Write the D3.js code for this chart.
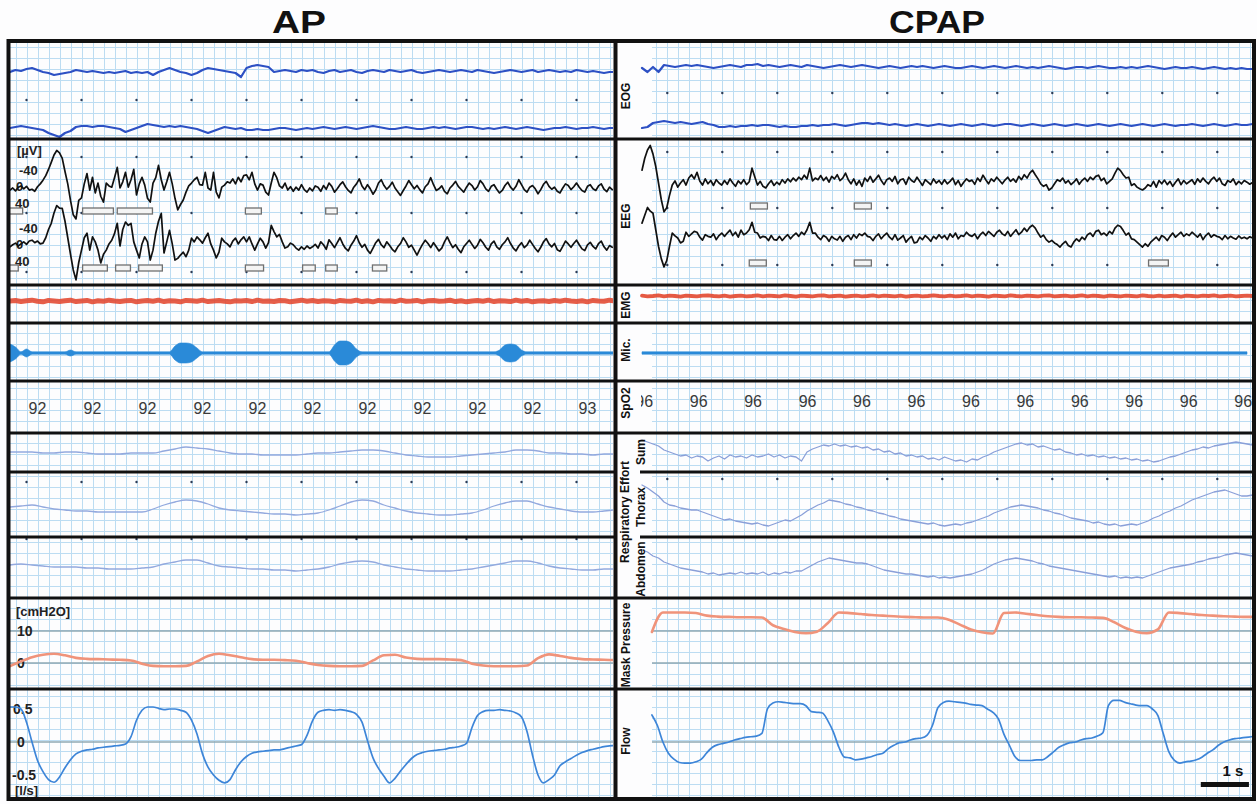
<!DOCTYPE html>
<html><head><meta charset="utf-8">
<script src="https://cdn.jsdelivr.net/npm/d3@7"></script>
<style>body{margin:0;background:#fff;}svg{display:block;font-family:"Liberation Sans",Arial,sans-serif;}</style>
</head><body><svg id="c" width="1257" height="804"></svg>
<script>
// ---------------- DATA ----------------
const panelTitles = ["AP", "CPAP"];
const channelLabels = ["EOG","EEG","EMG","Mic.","SpO2","Mask Pressure","Flow"];
const effortGroup = "Respiratory Effort";
const effortLabels = ["Sum","Thorax","Abdomen"];
const eegTicks = [-40, 0, 40];
const pressureTicks = [10, 0];
const flowTicks = [0.5, 0, -0.5];

// EOG (µV, 0.1 s samples)
const eogAP1 = [-2,2,0,4,6,2,-2,-4,-8,-6, -4,-2,2,0,-2,0,-2,-4,-2,-4, -2,0,-4,-2,-4,-2,-8,-2,2,6, 2,-2,-4,-8,-4,2,6,4,2,0, -2,-4,-12,6,10,12,10,8,-2,0, 2,0,-2,2,0,2,-2,-4,0,2, -2,0,2,-2,-4,0,2,0,-2,2, 0,-2,0,2,-2,-4,-2,0,2,0, -2,0,2,0,-2,2,0,-2,-4,-2, 0,2,0,-2,0,2,-2,0,2,0, -2,0,-2,2,0,-2,0,-2,-4,-2, -2];
const eogAP2 = [0,2,4,2,0,-2,-4,-10,-14,-18, -10,-6,2,4,4,2,4,4,2,0, -2,-8,-4,0,4,8,6,4,2,4, 2,4,2,0,-2,-6,-10,-6,-2,2, 0,-2,0,-4,-4,-2,-4,-4,-2,0, 0,-2,-4,-2,0,-2,0,2,0,-2, 0,2,0,-2,0,2,4,2,0,-2, -2,0,2,0,-2,-2,0,2,0,2, 0,-2,0,2,2,0,-2,0,-2,0, 2,0,-2,0,2,0,-2,-4,-2,0, 0,2,0,-2,0,0,2,0,-2,0, 0];
const eogCP1 = [-2,-10,0,-10,4,2,0,2,4,2, 4,2,0,-2,0,2,4,2,0,4, 4,6,2,4,2,0,2,4,2,0, 4,2,0,-2,0,2,4,2,0,2, 4,2,0,-2,0,2,0,-2,0,2, 0,2,0,-2,0,2,0,-2,-2,0, 2,0,-2,0,2,0,-2,0,2,0, -2,0,-2,0,2,0,-2,-4,-2,0, 0,-2,0,2,0,-2,-2,0,-2,0, -2,0,2,0,-2,-4,-2,0,-2,-2, 0,-2,-4,-2,0,-2,-4,-2,-4,-2, -4,-4];
const eogCP2 = [-6,-4,4,6,8,6,4,6,4,2, 4,6,2,0,-4,-4,-2,-4,-2,-2, 0,-2,0,0,-2,-4,-2,-4,-4,-2, -2,0,-2,0,0,2,0,-2,0,2, 4,4,2,4,2,0,2,0,-2,0, 2,0,-2,0,2,0,-2,0,2,0, -2,0,2,0,-2,0,2,2,0,-2, 0,2,0,-2,0,2,0,-2,0,2, 0,-2,0,2,0,-2,0,2,0,-2, 0,2,0,-2,0,2,0,-2,0,0, 2,0,-2,0,2,0,-2,0,2,0, 0,2];

// EEG (µV, 0.05 s samples; negative up)
const eegAP1 = [5,0,7,-2,-5,2,-4,5,3,8, -3,-10,-19,-30,-45,-62,-80,-91,-85,-72, -40,-10,30,65,75,30,24,-10,-35,5, -26,12,-12,20,34,-12,-5,-2,-25,-50, 0,-15,-38,-2,-20,-45,17,-10,-26,-7, 25,34,-12,-25,-55,-20,5,-15,-38,-10, 25,53,40,29,10,-5,-12,-20,-26,-8, -7,-38,0,5,-38,10,24,-2,-7,-15, -12,-22,-10,-26,-15,-30,-32,-20,-38,-10, 5,-10,-7,10,17,-12,-38,-25,-5,0, -12,5,-3,8,-2,5,-8,4,10,0, 7,-5,-2,8,-6,3,-12,-4,10,2, -8,-15,-3,6,12,-2,-10,-22,-5,4, -8,2,15,5,-12,-20,-6,3,-4,-14, 0,9,18,6,-5,-18,-8,2,-6,4, 12,-3,-10,-25,-8,6,2,-5,8,14, 0,-7,-16,-4,3,10,-2,-12,-6,5, -3,-18,-10,2,8,-4,-8,3,12,6, -6,-14,-2,5,-4,-20,-8,4,10,-2, -6,2,14,4,-9,-16,-4,3,-2,8, 12,0,-10,-6,4,-3,-12,-2,6,10, -4,-8,2,6,-5,-10,3,9,-2,4];
const eegAP2 = [2,-3,-7,0,-5,-10,-4,-12,-14,-8, -12,-5,-7,-20,-40,-55,-80,-98,-92,-91, -60,-20,20,58,82,40,10,-20,-31,10, -22,-10,10,41,20,10,-5,-14,-30,-55, 0,-40,-58,-50,-55,-10,10,29,-5,-22, -10,34,10,-31,-60,-79,17,-10,-38,-5, 34,30,22,15,26,10,-19,-10,-22,-15, -7,-20,-31,-5,10,29,15,-19,-10,-5, 2,-12,-19,-5,-15,-22,-10,-22,-5,10, -5,-19,-10,5,-8,-50,-35,-22,-28,-10, 5,2,-7,-3,5,10,2,8,0,6, 2,-4,5,-10,-3,8,-15,-6,4,-8, -20,-5,6,12,-2,-12,-25,-8,3,-4, 10,18,5,-8,-16,-3,4,-10,-2,8, 14,2,-6,-20,-10,3,-2,10,22,8, -4,-14,-6,4,-8,2,12,5,-10,-22, -8,4,-3,8,16,2,-6,-14,-4,6, -2,-16,-8,3,10,-5,-12,2,8,-3, -10,-20,-6,5,12,0,-8,4,-2,-14, -4,6,14,3,-10,-18,-5,2,-6,9, 13,1,-12,-5,3,-6,-14,-3,7,11, -3,-9,1,7,-6,-12,2,10,-1,3];
const eegCP1 = [-31,-60,-80,-91,-70,-40,0,40,70,60, 30,5,-5,10,0,-8,5,-12,-20,-10, -26,-5,5,-10,2,-6,6,-8,0,5, -6,3,-10,0,8,-5,2,-8,4,-3, -36,-15,5,-4,8,12,2,-6,6,-2, 4,-8,0,-10,-3,-12,-5,-14,-8,-19, -10,-36,-5,-12,-8,-18,-6,-14,-2,-16, -10,-20,-6,-12,-24,-8,2,-10,5,-6, 8,-12,-4,-16,-2,-10,-19,-6,4,-8, -12,-4,-16,2,-8,-10,3,-14,-6,-2, -14,-4,6,-8,-2,4,-10,0,-6,3, -8,2,-4,-12,4,-6,8,-2,-10,-4, -7,3,-12,-4,-19,-8,2,-10,-4,-14, -6,2,-7,-14,-4,-10,-2,-16,-8,-20, -12,-24,-31,-20,-10,2,8,4,17,12, 2,-8,-4,-12,0,-6,4,-2,-10,3, -6,-12,-4,-14,-8,-16,-19,-6,-12,2, -4,-10,-24,-36,-30,-20,-12,-14,6,2, 10,14,17,12,4,8,-4,10,-6,2, -7,4,-4,8,-2,-10,4,-6,2,-3, -8,3,-10,-2,-12,-4,2,-8,-14,-4, -12,2,6,-6,-2,-10,4,-4,2,-6, -2,3,-1];
const eegCP2 = [-36,-55,-74,-65,-60,-20,20,50,70,55, 20,-12,-5,0,12,8,-14,-4,-10,-16, -14,-2,5,-8,-4,-2,-10,4,-6,-12, -4,-12,-19,-6,-14,-2,-19,-8,-12,-20, -38,-14,-12,0,-4,-2,6,-6,4,5, -4,6,-2,-8,2,-6,-12,-4,-14,-8, -20,-38,-12,-12,-2,4,-6,-2,8,-4, 2,5,-4,8,-2,-6,4,-8,0,-10, -6,-12,-4,-2,6,-4,-10,2,-6,-12, -2,4,-8,5,0,-6,10,2,-4,12, 10,-2,4,-6,0,8,-4,2,-8,0, -6,4,-10,-2,-12,2,-6,-4,-14,-7, -4,-10,2,-8,-14,-6,-16,-10,-4,-14, -19,-10,-6,-16,-4,-12,-20,-8,-14,-24, -16,-26,-31,-24,-12,-2,-7,4,10,6, 12,16,22,14,8,18,22,10,2,8, -2,4,-8,-12,-4,-16,-19,-8,-12,-6, -16,-10,-24,-31,-28,-18,-7,-12,2,4, 10,16,22,14,20,10,4,-2,6,-6, -2,6,-4,-12,-2,-8,-14,-4,-10,-6, -14,-8,-2,-10,4,-6,-12,-2,-8,-4, -2,4,-6,2,-4,0,3,-5,1,-2, 2,-3,0];
// EEG event boxes [start s, end s]
const eegBoxesAP1 = [[-0.33,-0.07],[1.02,1.58],[1.65,2.29],[3.98,4.27],[5.44,5.65]];
const eegBoxesAP2 = [[-0.33,-0.15],[1.02,1.47],[1.62,1.89],[2.04,2.47],[3.98,4.31],[5.02,5.25],[5.44,5.65],[6.29,6.55]];
const eegBoxesCP1 = [[1.51,1.82],[3.4,3.71]];
const eegBoxesCP2 = [[1.49,1.8],[3.4,3.71],[8.75,9.11]];

// EMG (a.u., 0.1 s)
const emgAP = [0,2,-2,1,3,-1,-3,2,0,-2, 1,3,-2,0,2,-3,1,-1,3,0, -2,1,2,-3,0,2,-1,3,-2,1, 0,-3,2,1,-1,3,-2,0,2,-1, -3,1,0,2,-2,3,-1,0,-2,2, 1,-3,0,3,-1,2,-2,1,0,-3, 2,0,-1,3,-2,1,-3,2,0,1, -2,3,-1,0,2,-3,1,2,-1,0, 3,-2,1,-3,0,2,-1,3,-2,1, 0,-2,3,-1,2,-3,0,1,-2,2, -1,3,0,-2,1,-3,2,0,-1,3, 0];
const emgCP = [1,-1,0,2,-1,1,0,-2,1,0, -1,1,2,0,-1,1,-2,0,1,-1, 0,2,-1,1,0,-1,2,0,-2,1, 0,-1,1,2,-1,0,1,-2,0,1, -1,0,2,-1,1,0,-1,1,-2,0, 1,-1,0,2,0,-1,1,-1,0,2, -1,1,0,-2,1,0,-1,2,0,-1, 1,0,-1,1,2,-1,0,1,-1,0, 2,-1,1,0,-2,1,0,-1,1,0, -1,2,0,-1,1,-1,0,1,-2,1, 0,-1,1,0,2,-1,0,1,-1,0, 1,0];

// Microphone envelope (a.u., 0.1 s)
const micAP = [9,6,1.2,4,1.2,1.2,1.2,1.2,1.2,1.2, 1.2,3,1.2,1.2,1.2,1.2,1.2,1.2,1.2,1.2, 1.2,1.2,1.2,1.2,1.2,1.2,1.2,1.2,1.2,1.2, 7,10,10,9,5,1.2,1.2,1.2,1.2,1.2, 1.2,1.2,1.2,1.2,1.2,1.2,1.2,1.2,1.2,1.2, 1.2,1.2,1.2,1.2,1.2,1.2,1.2,1.2,1.2,8, 12,12,10,4,1.2,1.2,1.2,1.2,1.2,1.2, 1.2,1.2,1.2,1.2,1.2,1.2,1.2,1.2,1.2,1.2, 1.2,1.2,1.2,1.2,1.2,1.2,1.2,1.2,1.2,3, 8,9,8,3,1.2,1.2,1.2,1.2,1.2,1.2, 1.2,1.2,1.2,1.2,1.2,1.2,1.2,1.2,1.2,1.2, 1.2];
const micCP = [1.2,1.2,1.2,1.2,1.2,1.2,1.2,1.2,1.2,1.2,1.2,1.2];

// SpO2 (%), one reading per second
const spo2AP = [92,92,92,92,92,92,92,92,92,92,93];
const spo2CP = [96,96,96,96,96,96,96,96,96,96,96,96];

// Respiratory effort (a.u.)
const sumAP = [0,0,0,-1,-1,0,0,-1,-2,-2, -2,-1,-1,-1,1,3,5,4,3,1, -1,-2,-2,-3,-3,-3,-3,-2,-1,-1, 0,1,2,2,1,-1,-3,-4,-5,-5, -5,-4,-3,-2,-1,0,2,2,1,-1, -1,-2,-2,-3,-2,-2];
const thoraxAP = [1,2,3,1,-1,-2,-3,-3,-4,-4, -4,-4,-4,-1,3,6,8,7,4,0, -2,-3,-4,-5,-6,-6,-7,-6,-5,-2, 2,6,8,7,3,0,-3,-5,-6,-7, -7,-6,-5,-2,2,5,7,7,4,1, -1,-3,-4,-4,-3,-2];
const abdomenAP = [1,2,1,0,-1,-1,-1,-2,-2,-3, -3,-3,-2,-1,2,4,6,6,3,0, -1,-2,-3,-3,-4,-4,-5,-4,-3,-1, 2,4,5,4,1,-1,-3,-4,-5,-5, -5,-4,-3,-1,1,3,5,5,3,0, -2,-3,-4,-4,-3,-3];
const sumCP = [12,10,8,6,2,0,-2,-4,-3,-6, -4,-5,-9,-6,-4,-7,-3,-5,-4,-6, -3,-5,-4,-2,-5,-3,-6,-4,-5,-9, 0,3,5,7,6,8,6,7,5,6, 4,5,2,3,0,1,-2,-1,-4,-3, -5,-4,-7,-6,-8,-5,-7,-9,-8,-10, -7,-8,-5,-3,0,2,4,6,8,9, 7,8,5,6,4,2,3,0,-1,-3, -2,-4,-3,-5,-4,-6,-5,-7,-6,-8, -7,-9,-8,-10,-9,-7,-5,-4,-2,0, 2,3,5,4,6,7,8,9,10,9, 8,7];
const thoraxCP = [23,20,16,12,6,3,2,0,-1,-2, -2,-4,-6,-8,-10,-12,-11,-13,-14,-15, -16,-15,-17,-18,-16,-14,-12,-13,-10,-7, -3,0,3,5,8,7,6,4,3,1, 0,-2,-3,-5,-6,-8,-9,-11,-12,-13, -14,-15,-16,-15,-17,-18,-17,-16,-17,-15, -14,-12,-10,-8,-5,-3,-1,1,2,3, 2,1,0,-2,-3,-5,-6,-8,-10,-11, -12,-13,-15,-14,-16,-17,-16,-18,-17,-16, -17,-15,-13,-10,-8,-5,-3,0,2,5, 8,10,12,14,16,17,18,16,14,12, 12,13];
const abdomenCP = [16,14,10,8,4,2,0,-2,-3,-4, -5,-6,-8,-7,-9,-8,-7,-8,-6,-8, -7,-8,-6,-9,-7,-8,-6,-7,-5,-5, -2,1,4,6,8,7,6,5,4,3, 3,2,0,-2,-4,-5,-6,-7,-8,-8, -9,-10,-11,-10,-12,-11,-12,-11,-10,-9, -8,-6,-4,-1,2,4,6,7,8,7, 6,5,3,2,0,-1,-2,-3,-4,-5, -6,-7,-8,-9,-10,-11,-10,-12,-11,-12, -11,-12,-10,-8,-6,-4,-2,-1,0,1, 2,4,5,7,8,9,11,12,13,12, 11,10];

// Mask pressure (cmH2O, 0.2 s)
const maskAP = [-1,0.5,1.8,2.6,2.9,2.4,1.6,1.3,1.2,1.1, 1.0,0.8,-0.2,-0.9,-1.0,-1.0,-0.9,0.5,2.2,2.9, 2.4,1.8,1.2,1.0,1.0,0.9,0.7,0.0,-0.6,-0.9, -1.0,-1.0,-0.9,0.8,2.4,2.6,1.7,1.3,1.2,1.2, 1.1,0.9,-0.2,-0.8,-1.0,-1.0,-1.0,-0.8,1.5,2.7, 2.2,1.6,1.2,1.1,1.0,0.9];
const maskCP = [9.7,15.8,15.8,15.8,15.6,14.8,14.5,14.4,14.3,14.3, 14.2,11.8,10.6,9.7,9.3,9.8,12.5,15.8,15.6,15.3, 15.0,14.8,14.6,14.4,14.3,14.2,14.2,13.5,12.0,10.5, 9.6,9.2,15.6,15.8,15.4,15.0,14.6,14.4,14.3,14.3, 14.2,14.1,12.8,11.0,9.8,9.3,10.5,15.8,15.6,15.3, 15.0,14.8,14.6,14.5,14.4,14.4];

// Flow (l/s, 0.1 s)
const flowAP = [0.53,0.53,0.5,0.3,0.0,-0.28,-0.45,-0.57,-0.61,-0.53, -0.39,-0.27,-0.18,-0.14,-0.12,-0.11,-0.09,-0.08,-0.07,-0.06, -0.05,-0.03,0.08,0.33,0.48,0.53,0.53,0.51,0.49,0.5, 0.5,0.48,0.45,0.33,0.12,-0.18,-0.38,-0.5,-0.58,-0.62, -0.57,-0.42,-0.3,-0.22,-0.17,-0.15,-0.14,-0.13,-0.12,-0.12, -0.1,-0.08,-0.06,-0.04,0.1,0.32,0.45,0.48,0.49,0.48, 0.49,0.48,0.46,0.42,0.3,0.02,-0.24,-0.4,-0.52,-0.62, -0.55,-0.44,-0.34,-0.25,-0.19,-0.16,-0.14,-0.13,-0.12,-0.11, -0.09,-0.08,-0.06,-0.02,0.22,0.4,0.46,0.48,0.48,0.49, 0.48,0.47,0.44,0.38,0.16,-0.2,-0.5,-0.62,-0.57,-0.5, -0.36,-0.3,-0.25,-0.2,-0.16,-0.13,-0.11,-0.09,-0.07,-0.06, -0.05];
const flowCP = [0.41,0.25,0.0,-0.17,-0.26,-0.31,-0.32,-0.32,-0.3,-0.26, -0.16,-0.08,-0.04,-0.02,0.0,0.03,0.05,0.07,0.08,0.09, 0.13,0.5,0.59,0.61,0.6,0.59,0.58,0.58,0.55,0.46, 0.45,0.44,0.32,0.15,-0.08,-0.23,-0.24,-0.27,-0.26,-0.24, -0.22,-0.19,-0.17,-0.1,-0.05,-0.01,0.0,0.03,0.05,0.06, 0.1,0.25,0.52,0.6,0.62,0.61,0.6,0.59,0.57,0.56, 0.55,0.5,0.45,0.35,0.12,-0.05,-0.22,-0.28,-0.28,-0.28, -0.27,-0.27,-0.22,-0.15,-0.08,-0.04,-0.01,0.0,0.03,0.05, 0.06,0.09,0.14,0.55,0.63,0.63,0.6,0.58,0.56,0.55, 0.55,0.5,0.4,0.12,-0.15,-0.28,-0.32,-0.3,-0.29,-0.27, -0.23,-0.17,-0.12,-0.05,0.0,0.03,0.05,0.06,0.07,0.08];

const scaleBarLabel = "1 s";

// ---------------- LAYOUT ----------------
const svg = d3.select("#c");
const W = 1257, H = 804, TOP = 42, BOT = 799;
const GRID = "#bcdcf2";
svg.append("rect").attr("width", W).attr("height", H).attr("fill", "#fdfdfe");

const P = {
  AP:   {x: d3.scaleLinear().domain([-0.3, 10.7]).range([10, 615]), gx0: 10, gx1: 613, t0: -0.3},
  CPAP: {x: d3.scaleLinear().domain([-0.46, 10.64]).range([642, 1252.5]), gx0: 652, gx1: 1253, t0: -0.46, t0b: -0.28}
};

// clip paths
const defs = svg.append("defs");
defs.append("clipPath").attr("id","clipAP").append("rect").attr("x",10).attr("y",TOP).attr("width",603).attr("height",BOT-TOP);
defs.append("clipPath").attr("id","clipCP").append("rect").attr("x",617).attr("y",TOP).attr("width",636).attr("height",BOT-TOP);
defs.append("clipPath").attr("id","clipCPs").append("rect").attr("x",641).attr("y",TOP).attr("width",612).attr("height",BOT-TOP);

// grid
function grid(p){
  const g = svg.append("g").attr("stroke", GRID).attr("stroke-width", 1).attr("shape-rendering","crispEdges");
  const [d0, d1] = p.x.domain();
  const ticks = d3.range(Math.ceil(d0/0.2), Math.floor(d1/0.2)+1).map(k => k*0.2);
  ticks.forEach(t => {
    const xx = Math.round(p.x(t)) + 0.5;
    if (xx > p.gx0 && xx < p.gx1) g.append("line").attr("x1",xx).attr("x2",xx).attr("y1",TOP).attr("y2",BOT);
  });
  for (let y = TOP + 5.5; y < BOT; y += 11)
    g.append("line").attr("x1",p.gx0).attr("x2",p.gx1).attr("y1",y).attr("y2",y);
}
grid(P.AP); grid(P.CPAP);

// scales
const lin = (d, r) => d3.scaleLinear().domain(d).range(r);
const yMask = lin([0,10],[663,631]);
const yFlow = lin([-0.5,0.5],[775,709]);
const eegY = y0 => lin([-40,40],[y0-16.5,y0+16.5]);
const auY = (y0, k) => lin([0,10],[y0, y0-10*k]);

// reference lines
const refG = svg.append("g").attr("stroke","#8fa9b3").attr("stroke-width",1.6);
[P.AP, P.CPAP].forEach(p => {
  pressureTicks.forEach(v => refG.append("line").attr("x1",p.gx0).attr("x2",p.gx1).attr("y1",yMask(v)).attr("y2",yMask(v)));
  refG.append("line").attr("x1",p.gx0).attr("x2",p.gx1).attr("y1",yFlow(0)).attr("y2",yFlow(0));
});

// left axis labels
const lab = svg.append("g").attr("font-weight","bold").attr("fill","#222");
function txt(g, x, y, s, size, anchor){ return g.append("text").attr("x",x).attr("y",y).attr("font-size",size).attr("text-anchor",anchor||"start").attr("dominant-baseline","middle").text(s); }
txt(lab, 17, 152, "[\u00b5V]", 13);
[188, 246].forEach(y0 => {
  const ys = eegY(y0);
  eegTicks.forEach(v => txt(lab, v < 0 ? 19 : (v === 0 ? 16 : 15), ys(v), String(v), 13));
});
txt(lab, 16, 613, "[cmH2O]", 13);
pressureTicks.forEach(v => txt(lab, 17, yMask(v)+1, String(v), 14));
flowTicks.forEach(v => txt(lab, v < 0 ? 12 : (v === 0 ? 17 : 13), yFlow(v)+1, String(v), 14));
txt(lab, 15, 792, "[l/s]", 13);

// second markers
const dotG = svg.append("g").attr("fill","#2b3a55");
[[P.AP,[100,157,213,272,482,539]],[P.CPAP,[93,152,208,265,479]]].forEach(([p, ys]) => {
  d3.range(0, 11).forEach(t => { const xx = p.x(t); if (xx > p.gx0 && xx < p.gx1) ys.forEach(y => dotG.append("circle").attr("cx",xx).attr("cy",y).attr("r",1.2)); });
});

// EEG boxes
function boxes(p, arr, y){
  const g = svg.append("g").attr("clip-path", p === P.AP ? "url(#clipAP)" : "url(#clipCP)");
  arr.forEach(([a,b]) => g.append("rect").attr("x",p.x(a)).attr("y",y).attr("width",p.x(b)-p.x(a)).attr("height",6)
    .attr("fill","#f4f4f4").attr("stroke","#707070").attr("stroke-width",1.3));
}
boxes(P.AP, eegBoxesAP1, 208); boxes(P.AP, eegBoxesAP2, 265);
boxes(P.CPAP, eegBoxesCP1, 203); boxes(P.CPAP, eegBoxesCP2, 260);

// traces
function trace(p, vals, t0, dt, ys, color, w, curve, op){
  const g = svg.append("g").attr("clip-path", p === P.AP ? "url(#clipAP)" : "url(#clipCP)");
  const line = d3.line().x((d,i) => p.x(t0 + i*dt)).y(d => ys(d)).curve(curve || d3.curveLinear);
  g.append("path").attr("d", line(vals)).attr("fill","none").attr("stroke",color).attr("stroke-width",w)
    .attr("stroke-linejoin","round").attr("stroke-linecap","round").attr("opacity", op || 1);
}
function micArea(p, vals, t0, dt, y0, color){
  const g = svg.append("g").attr("clip-path", p === P.AP ? "url(#clipAP)" : "url(#clipCP)");
  const a = d3.area().x((d,i) => p.x(t0 + i*dt)).y0(d => y0 - d).y1(d => y0 + d).curve(d3.curveMonotoneX);
  g.append("path").attr("d", a(vals)).attr("fill", color).attr("stroke", color).attr("stroke-width", 0.6);
}
const EOGC = "#2d50c4", EEGC = "#111", EMGC = "#e2472f", MICC = "#2a8ad8", RESPC = "#93a9de", MASKC = "#f0937a", FLOWC = "#3d85d8";

trace(P.AP, eogAP1, P.AP.t0, 0.1, auY(71,0.5), EOGC, 2.2);
trace(P.AP, eogAP2, P.AP.t0, 0.1, auY(128,0.5), EOGC, 2.2);
trace(P.CPAP, eogCP1, P.CPAP.t0, 0.1, auY(67,0.5), EOGC, 2.2);
trace(P.CPAP, eogCP2, P.CPAP.t0, 0.1, auY(125,0.5), EOGC, 2.2);

trace(P.AP, eegAP1, P.AP.t0, 0.05, eegY(188), EEGC, 1.7);
trace(P.AP, eegAP2, P.AP.t0, 0.05, eegY(246), EEGC, 1.7);
trace(P.CPAP, eegCP1, P.CPAP.t0, 0.05, eegY(183), EEGC, 1.7);
trace(P.CPAP, eegCP2, P.CPAP.t0, 0.05, eegY(238), EEGC, 1.7);

trace(P.AP, emgAP, P.AP.t0, 0.1, auY(301,0.28), EMGC, 5, null, 0.88);
trace(P.CPAP, emgCP, P.CPAP.t0, 0.1, auY(296,0.3), EMGC, 3.8, null, 0.9);

micArea(P.AP, micAP, P.AP.t0, 0.1, 353, MICC);
micArea(P.CPAP, micCP, P.CPAP.t0, 1, 353, MICC);

// SpO2
const spG = svg.append("g").attr("font-size",16).attr("fill","#3a3a3a").attr("text-anchor","middle");
const spAPg = spG.append("g").attr("clip-path","url(#clipAP)");
spo2AP.forEach((v,i) => spAPg.append("text").attr("x", P.AP.x(i + 0.2)).attr("y", 414).text(v));
const spCPg = spG.append("g").attr("clip-path","url(#clipCPs)");
spo2CP.forEach((v,i) => spCPg.append("text").attr("x", P.CPAP.x(i*0.99 - 0.42)).attr("y", 407).text(v));

trace(P.AP, sumAP, P.AP.t0, 0.2, auY(452,1), RESPC, 1.3, d3.curveMonotoneX);
trace(P.AP, thoraxAP, P.AP.t0, 0.2, auY(508,1), RESPC, 1.3, d3.curveMonotoneX);
trace(P.AP, abdomenAP, P.AP.t0, 0.2, auY(566,1), RESPC, 1.3, d3.curveMonotoneX);
trace(P.CPAP, sumCP, P.CPAP.t0, 0.1, auY(452,1), "#8a9fd8", 1.3);
trace(P.CPAP, thoraxCP, P.CPAP.t0, 0.1, auY(508,1), "#8a9fd8", 1.3);
trace(P.CPAP, abdomenCP, P.CPAP.t0, 0.1, auY(566,1), "#8a9fd8", 1.3);

trace(P.AP, maskAP, P.AP.t0, 0.2, yMask, MASKC, 2.6, d3.curveMonotoneX);
trace(P.CPAP, maskCP, P.CPAP.t0b, 0.2, yMask, MASKC, 2.6, d3.curveMonotoneX);
trace(P.AP, flowAP, P.AP.t0, 0.1, yFlow, FLOWC, 1.7, d3.curveMonotoneX);
trace(P.CPAP, flowCP, P.CPAP.t0b, 0.1, yFlow, FLOWC, 1.7, d3.curveMonotoneX);

// separators & frame
const sep = svg.append("g").attr("stroke","#111").attr("stroke-width",3);
[139,285,323,381,433,598,689].forEach(y => sep.append("line").attr("x1",8).attr("x2",1255).attr("y1",y).attr("y2",y));
[472,537].forEach(y => { sep.append("line").attr("x1",8).attr("x2",615).attr("y1",y).attr("y2",y); sep.append("line").attr("x1",640).attr("x2",1255).attr("y1",y).attr("y2",y); });
svg.append("rect").attr("x",8.5).attr("y",41).attr("width",1245.5).attr("height",758).attr("fill","none").attr("stroke","#111").attr("stroke-width",4);
svg.append("line").attr("x1",615.5).attr("x2",615.5).attr("y1",40).attr("y2",801).attr("stroke","#111").attr("stroke-width",4);

// titles
const tg = svg.append("g").attr("font-weight","bold").attr("font-size",31).attr("fill","#111").attr("text-anchor","middle");
tg.append("text").attr("x",299).attr("y",33).attr("textLength",54).attr("lengthAdjust","spacingAndGlyphs").text(panelTitles[0]);
tg.append("text").attr("x",937).attr("y",33).attr("textLength",96).attr("lengthAdjust","spacingAndGlyphs").text(panelTitles[1]);

// channel labels (rotated)
const cl = svg.append("g").attr("font-weight","bold").attr("font-size",12).attr("fill","#111").attr("text-anchor","middle");
function rlab(x, y, s){ cl.append("text").attr("transform",`translate(${x},${y}) rotate(-90)`).attr("dominant-baseline","middle").text(s); }
const labelY = [96, 216, 305, 350, 403, 645, 741];
channelLabels.forEach((s,i) => rlab(627, labelY[i], s));
rlab(626, 512, effortGroup);
[452, 507, 569].forEach((y,i) => rlab(642, y, effortLabels[i]));

// scale bar (1 s)
svg.append("rect").attr("x", P.CPAP.x(9.7)).attr("y",782).attr("width", P.CPAP.x(10.575) - P.CPAP.x(9.7)).attr("height",5).attr("fill","#111");
svg.append("text").attr("x",1233).attr("y",776).attr("font-weight","bold").attr("font-size",15).attr("text-anchor","middle").attr("fill","#111").text(scaleBarLabel);
</script></body></html>
